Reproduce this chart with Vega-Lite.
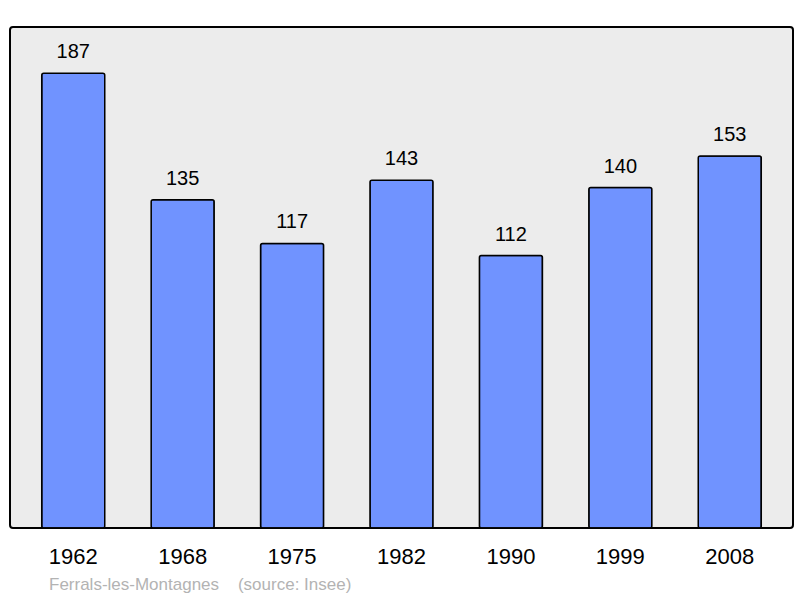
{
  "$schema": "https://vega.github.io/schema/vega-lite/v6.json",
  "autosize": "none",
  "width": 783,
  "height": 501,
  "padding": {"left": 10, "top": 27, "right": 7, "bottom": 70},
  "background": "white",
  "config": {
    "font": "Liberation Sans",
    "view": {"fill": "#ececec", "stroke": "#000000", "strokeWidth": 2, "cornerRadius": 3}
  },
  "title": {
    "text": "Ferrals-les-Montagnes\u00a0\u00a0\u00a0\u00a0(source: Insee)",
    "orient": "bottom",
    "anchor": "start",
    "dx": 39,
    "offset": 10,
    "fontSize": 17,
    "fontWeight": "normal",
    "color": "#b3b3b3",
    "font": "Liberation Sans"
  },
  "data": {
    "values": [
      {"year": "1962", "pop": 187},
      {"year": "1968", "pop": 135},
      {"year": "1975", "pop": 117},
      {"year": "1982", "pop": 143},
      {"year": "1990", "pop": 112},
      {"year": "1999", "pop": 140},
      {"year": "2008", "pop": 153}
    ]
  },
  "encoding": {
    "x": {
      "field": "year",
      "type": "nominal",
      "sort": null,
      "scale": {"paddingInner": 0.424, "paddingOuter": 0.29},
      "axis": {
        "title": null,
        "labelAngle": 0,
        "labelFontSize": 22,
        "labelColor": "#000000",
        "labelPadding": 18,
        "domain": false,
        "ticks": false,
        "grid": false
      }
    },
    "y": {
      "field": "pop",
      "type": "quantitative",
      "scale": {"domain": [0, 206], "nice": false},
      "axis": null
    }
  },
  "layer": [
    {
      "mark": {"type": "bar", "fill": "#7093ff", "stroke": "#000000", "strokeWidth": 1.5, "cornerRadius": 2}
    },
    {
      "mark": {"type": "text", "baseline": "bottom", "dy": -11, "fontSize": 20, "color": "#000000"},
      "encoding": {"text": {"field": "pop", "type": "quantitative"}}
    }
  ]
}
